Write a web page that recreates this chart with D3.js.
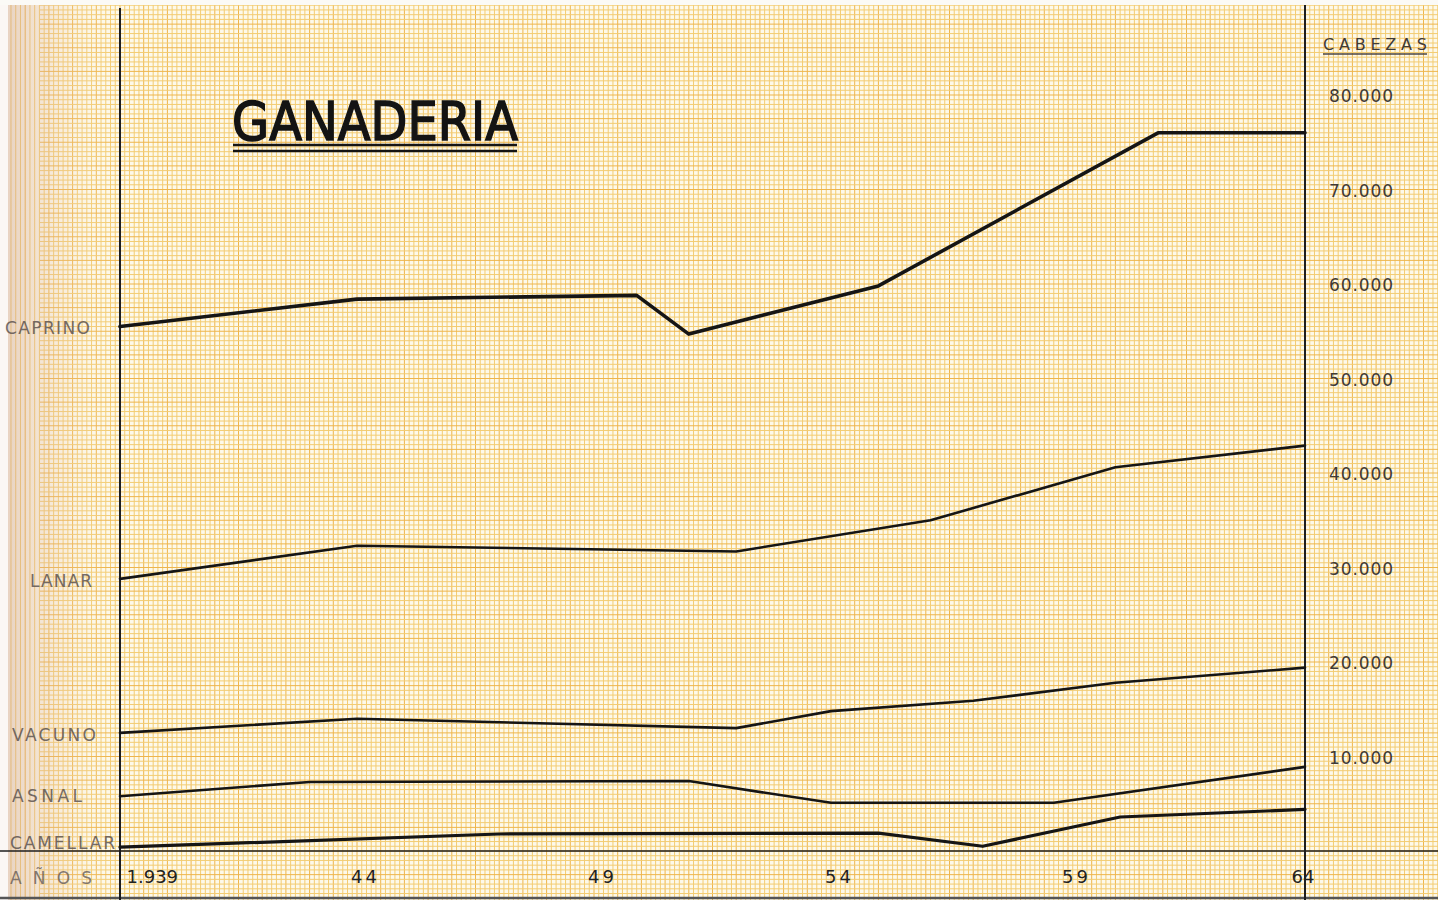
<!DOCTYPE html>
<html>
<head>
<meta charset="utf-8">
<script src="https://cdn.jsdelivr.net/npm/d3@7"></script>
<style>
  body { margin: 0; background: #fff; overflow: hidden; }
  svg { display: block; }
</style>
</head>
<body>
<svg id="chart"></svg>
<script>
// series (heads of livestock)
const caprinoYears = [1939, 1944, 1949.9, 1951, 1955, 1960.9, 1964];
const caprinoValues = [55500, 58400, 58800, 54700, 59800, 76000, 76000];
const lanarYears = [1939, 1944, 1952, 1956.1, 1960, 1964];
const lanarValues = [28800, 32300, 31700, 35000, 40600, 42900];
const vacunoYears = [1939, 1944, 1952, 1954, 1957, 1960, 1964];
const vacunoValues = [12500, 14000, 13000, 14800, 15900, 17800, 19400];
const asnalYears = [1939, 1943, 1951, 1954, 1958.7, 1964];
const asnalValues = [5800, 7300, 7400, 5100, 5100, 8900];
const camellarYears = [1939, 1947, 1955, 1957.2, 1960.1, 1964];
const camellarValues = [400, 1800, 1900, 500, 3600, 4400];

const seriesNames = ["CAPRINO", "LANAR", "VACUNO", "ASNAL", "CAMELLAR"];
const xTicks = [1939, 1944, 1949, 1954, 1959, 1964];
const xTickLabels = ["1.939", "44", "49", "54", "59", "64"];
const yTicks = [10000, 20000, 30000, 40000, 50000, 60000, 70000, 80000];

const width = 1438;
const height = 900;

const series = [
  { name: seriesNames[0], years: caprinoYears, values: caprinoValues, w: 3.6 },
  { name: seriesNames[1], years: lanarYears, values: lanarValues, w: 2.6 },
  { name: seriesNames[2], years: vacunoYears, values: vacunoValues, w: 2.6 },
  { name: seriesNames[3], years: asnalYears, values: asnalValues, w: 2.6 },
  { name: seriesNames[4], years: camellarYears, values: camellarValues, w: 3.2 },
];

// scales: 1939 sits on the left rule, 1964 on the right rule
const x = d3.scaleLinear().domain([1939, 1964]).range([120, 1305]);
const y = d3.scaleLinear().domain([0, 80000]).range([851, 95]);

const svg = d3.select("#chart").attr("width", width).attr("height", height);
const defs = svg.append("defs");

// paper
svg.append("rect").attr("width", width).attr("height", height).attr("fill", "#fdf9ea");

// millimetre grid, one cell = 0.1 year = 500 heads
const gridLayer = svg.append("g").attr("class", "grid");
const xCells = d3.range(-26, 280).map((k) => 1939 + k * 0.1);
const yCells = d3.range(-12, 180).map((k) => k * 500);

gridLayer
  .selectAll(".gx")
  .data(xCells)
  .join("line")
  .attr("class", "gx")
  .attr("x1", (d) => x(d))
  .attr("x2", (d) => x(d))
  .attr("y1", 0)
  .attr("y2", height)
  .attr("stroke", (d, i) => (i % 5 === 1 ? "#eeb54c" : "#f3cc72"))
  .attr("stroke-width", 1);

gridLayer
  .selectAll(".gy")
  .data(yCells)
  .join("line")
  .attr("class", "gy")
  .attr("x1", 40)
  .attr("x2", width)
  .attr("y1", (d) => y(d))
  .attr("y2", (d) => y(d))
  .attr("stroke", (d, i) => (i % 5 === 2 ? "#eeb54c" : "#f3cc72"))
  .attr("stroke-width", 1);

// binding shadow on the left edge of the page
const shade = defs.append("linearGradient").attr("id", "shade");
shade.append("stop").attr("offset", "0%").attr("stop-color", "#c99a86").attr("stop-opacity", 0.4);
shade.append("stop").attr("offset", "50%").attr("stop-color", "#e6c0a8").attr("stop-opacity", 0.2);
shade.append("stop").attr("offset", "100%").attr("stop-color", "#fdf9ea").attr("stop-opacity", 0);
svg.append("rect").attr("x", 8).attr("y", 0).attr("width", 110).attr("height", height).attr("fill", "url(#shade)");

// white margins of the scan
svg.append("rect").attr("x", 0).attr("y", 0).attr("width", 8).attr("height", height).attr("fill", "#fbf7f4");
svg.append("rect").attr("x", 0).attr("y", 0).attr("width", width).attr("height", 5).attr("fill", "#fbfaf6");
svg.append("line").attr("x1", 0).attr("x2", width).attr("y1", 898).attr("y2", 898)
  .attr("stroke", "#555").attr("stroke-width", 2.5);

// frame: two vertical rules and the zero line
const frame = svg.append("g").attr("stroke", "#1e1e1e");
frame.append("line").attr("x1", x(1939)).attr("x2", x(1939)).attr("y1", 8).attr("y2", height).attr("stroke-width", 2);
frame.append("line").attr("x1", x(1964)).attr("x2", x(1964)).attr("y1", 5).attr("y2", height).attr("stroke-width", 2);
frame.append("line").attr("x1", 0).attr("x2", width).attr("y1", y(0)).attr("y2", y(0)).attr("stroke-width", 1.6);

// series lines
const line = d3
  .line()
  .x((d) => x(d[0]))
  .y((d) => y(d[1]));

svg
  .append("g")
  .selectAll("path")
  .data(series)
  .join("path")
  .attr("d", (d) => line(d.years.map((yr, i) => [yr, d.values[i]])))
  .attr("fill", "none")
  .attr("stroke", "#151515")
  .attr("stroke-width", (d) => d.w)
  .attr("stroke-linejoin", "round")
  .attr("stroke-linecap", "round");

// right axis: head counts
const yAxis = svg
  .append("g")
  .attr("transform", `translate(${x(1964) + 24},0)`)
  .call(
    d3
      .axisRight(y)
      .tickValues(yTicks)
      .tickSize(0)
      .tickPadding(0)
      .tickFormat((d) => d3.format(",")(d).replace(",", "."))
  );
yAxis.select(".domain").remove();
yAxis
  .selectAll("text")
  .attr("font-family", "'DejaVu Sans', sans-serif")
  .attr("font-size", 17)
  .attr("fill", "#3f3a37")
  .attr("textLength", 64)
  .attr("lengthAdjust", "spacing")
  .attr("dy", "0.4em");

svg
  .append("text")
  .attr("x", 1323)
  .attr("y", 50)
  .attr("font-family", "'DejaVu Sans', sans-serif")
  .attr("font-size", 16)
  .attr("fill", "#3f3a37")
  .attr("textLength", 104)
  .attr("lengthAdjust", "spacing")
  .text("CABEZAS");
svg.append("line").attr("x1", 1323).attr("x2", 1427).attr("y1", 54).attr("y2", 54)
  .attr("stroke", "#4a4542").attr("stroke-width", 1.5);

// bottom axis: years
const xAxis = svg
  .append("g")
  .attr("transform", `translate(0,${y(0)})`)
  .call(
    d3
      .axisBottom(x)
      .tickValues(xTicks)
      .tickSize(0)
      .tickPadding(0)
      .tickFormat((d, i) => xTickLabels[i])
  );
xAxis.select(".domain").remove();
xAxis
  .selectAll("text")
  .attr("font-family", "'DejaVu Sans', sans-serif")
  .attr("font-size", 18)
  .attr("fill", "#222")
  .attr("letter-spacing", (d, i) => (i === 0 || i === 5 ? 0 : 3))
  .attr("y", 32)
  .attr("dy", 0)
  .attr("text-anchor", (d, i) => (i === 0 ? "start" : i === 5 ? "end" : "middle"))
  .attr("dx", (d, i) => (i === 0 ? 6 : i === 5 ? 9 : 8));

// left labels of each series
const leftLabels = [
  { text: "CAPRINO", x: 5, len: 85, dy: 0 },
  { text: "LANAR", x: 30, len: 62, dy: 1 },
  { text: "VACUNO", x: 12, len: 84, dy: 1 },
  { text: "ASNAL", x: 12, len: 70, dy: -1 },
  { text: "CAMELLAR", x: 10, len: 105, dy: -5 },
];
svg
  .append("g")
  .selectAll("text")
  .data(leftLabels)
  .join("text")
  .attr("x", (d) => d.x)
  .attr("y", (d, i) => y(series[i].values[0]) + d.dy + 7)
  .attr("font-family", "'DejaVu Sans', sans-serif")
  .attr("font-size", 17)
  .attr("fill", "#5e5552")
  .attr("opacity", 0.85)
  .attr("textLength", (d) => d.len)
  .attr("lengthAdjust", "spacing")
  .text((d) => d.text);

svg
  .append("text")
  .attr("x", 10)
  .attr("y", 884)
  .attr("font-family", "'DejaVu Sans', sans-serif")
  .attr("font-size", 17)
  .attr("fill", "#5e5552")
  .attr("opacity", 0.75)
  .attr("textLength", 82)
  .attr("lengthAdjust", "spacing")
  .text("AÑOS");

// title with double underline
svg
  .append("text")
  .attr("x", 232)
  .attr("y", 140)
  .attr("font-family", "'DejaVu Sans', sans-serif")
  .attr("font-size", 53)
  .attr("fill", "#141414")
  .attr("stroke", "#141414")
  .attr("stroke-width", 1.6)
  .attr("textLength", 286)
  .attr("lengthAdjust", "spacingAndGlyphs")
  .text("GANADERIA");
[145, 151].forEach((yy) => {
  svg.append("line").attr("x1", 233).attr("x2", 517).attr("y1", yy).attr("y2", yy)
    .attr("stroke", "#141414").attr("stroke-width", 2.6);
});
</script>
</body>
</html>
